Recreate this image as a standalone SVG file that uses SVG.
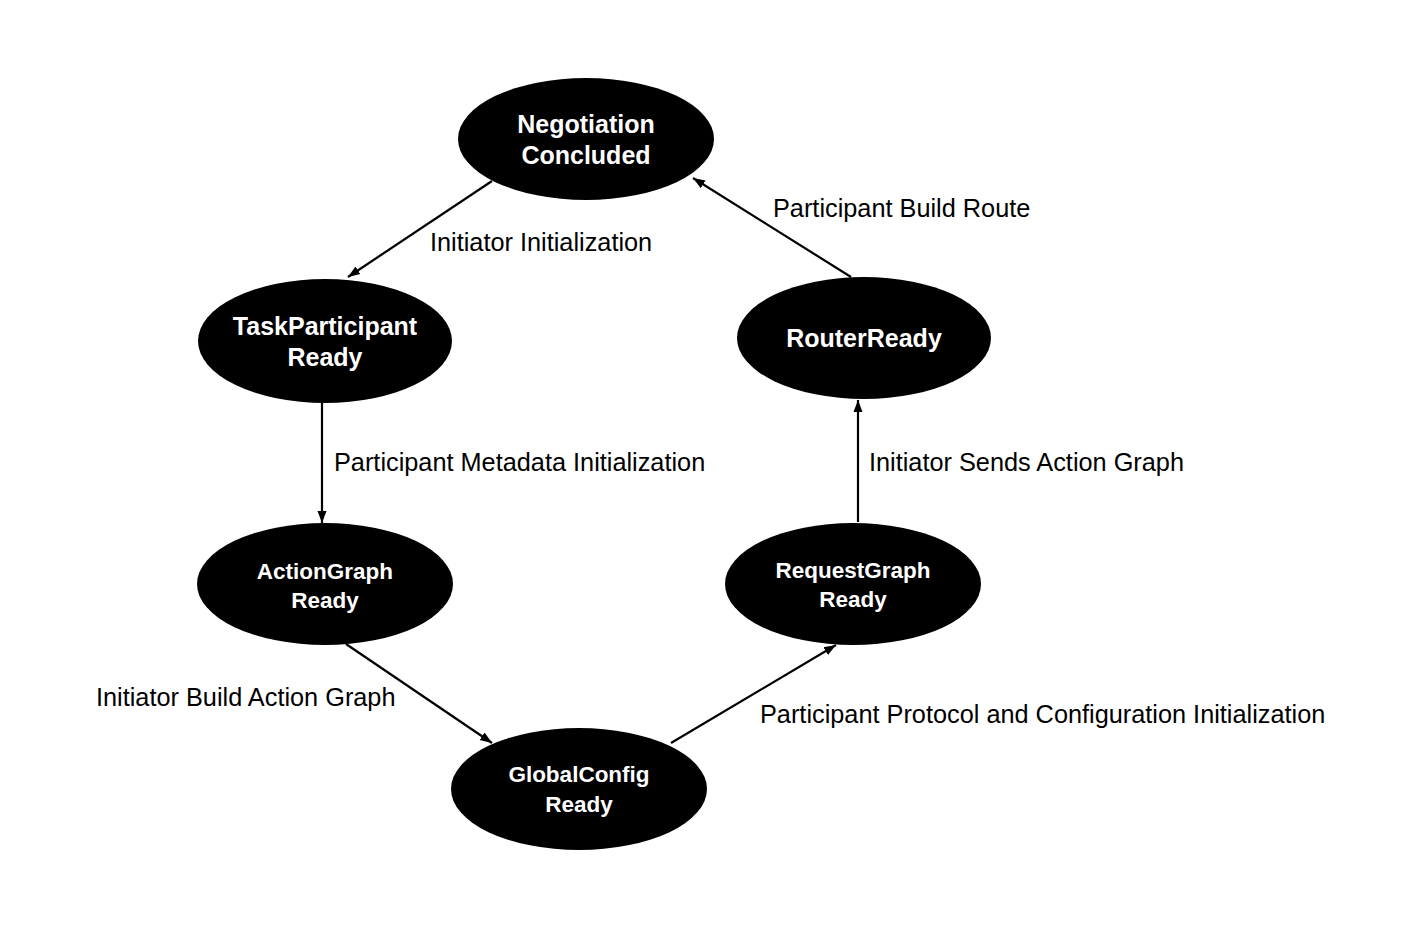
<svg xmlns="http://www.w3.org/2000/svg" width="1422" height="940" viewBox="0 0 1422 940">
<style>
.node{fill:#000;}
.nt{fill:#fff;font-family:"Liberation Sans",Arial,sans-serif;font-weight:bold;text-anchor:middle;}
.big{font-size:25px;}
.small{font-size:22.5px;}
.edge{stroke:#000;stroke-width:2.2;fill:none;marker-end:url(#arr);}
.lbl{fill:#000;font-family:"Liberation Sans",Arial,sans-serif;font-size:25.3px;}
</style>
<defs>
<marker id="arr" markerUnits="userSpaceOnUse" markerWidth="13" markerHeight="11" refX="12" refY="5.5" orient="auto">
<path d="M0,1 L12,5.5 L0,10 z" fill="#000"/>
</marker>
</defs>
<rect width="1422" height="940" fill="#fff"/>
<g id="connectors">
<line class="edge" x1="492" y1="181" x2="348" y2="277"/>
<line class="edge" x1="322" y1="403" x2="322" y2="523"/>
<line class="edge" x1="346" y1="644" x2="492" y2="743"/>
<line class="edge" x1="671" y1="743" x2="836" y2="645"/>
<line class="edge" x1="858" y1="522" x2="858" y2="400"/>
<line class="edge" x1="851" y1="277" x2="693" y2="178"/>
</g>
<g id="labels">
<text class="lbl" x="430" y="251">Initiator Initialization</text>
<text class="lbl" x="773" y="217">Participant Build Route</text>
<text class="lbl" x="334" y="471">Participant Metadata Initialization</text>
<text class="lbl" x="869" y="471">Initiator Sends Action Graph</text>
<text class="lbl" x="96" y="706">Initiator Build Action Graph</text>
<text class="lbl" x="760" y="723">Participant Protocol and Configuration Initialization</text>
</g>
<g id="negotiation-concluded">
<ellipse class="node" cx="586" cy="139" rx="128" ry="61"/>
<text class="nt big" x="586" y="133">Negotiation</text>
<text class="nt big" x="586" y="164">Concluded</text>
</g>
<g id="taskparticipant-ready">
<ellipse class="node" cx="325" cy="341" rx="127" ry="62"/>
<text class="nt big" x="325" y="335">TaskParticipant</text>
<text class="nt big" x="325" y="366">Ready</text>
</g>
<g id="router-ready">
<ellipse class="node" cx="864" cy="338" rx="127" ry="61"/>
<text class="nt big" x="864" y="347">RouterReady</text>
</g>
<g id="actiongraph-ready">
<ellipse class="node" cx="325" cy="584" rx="128" ry="61"/>
<text class="nt small" x="325" y="579">ActionGraph</text>
<text class="nt small" x="325" y="608">Ready</text>
</g>
<g id="requestgraph-ready">
<ellipse class="node" cx="853" cy="584" rx="128" ry="61"/>
<text class="nt small" x="853" y="578">RequestGraph</text>
<text class="nt small" x="853" y="607">Ready</text>
</g>
<g id="globalconfig-ready">
<ellipse class="node" cx="579" cy="789" rx="128" ry="61"/>
<text class="nt small" x="579" y="782">GlobalConfig</text>
<text class="nt small" x="579" y="812">Ready</text>
</g>
</svg>
